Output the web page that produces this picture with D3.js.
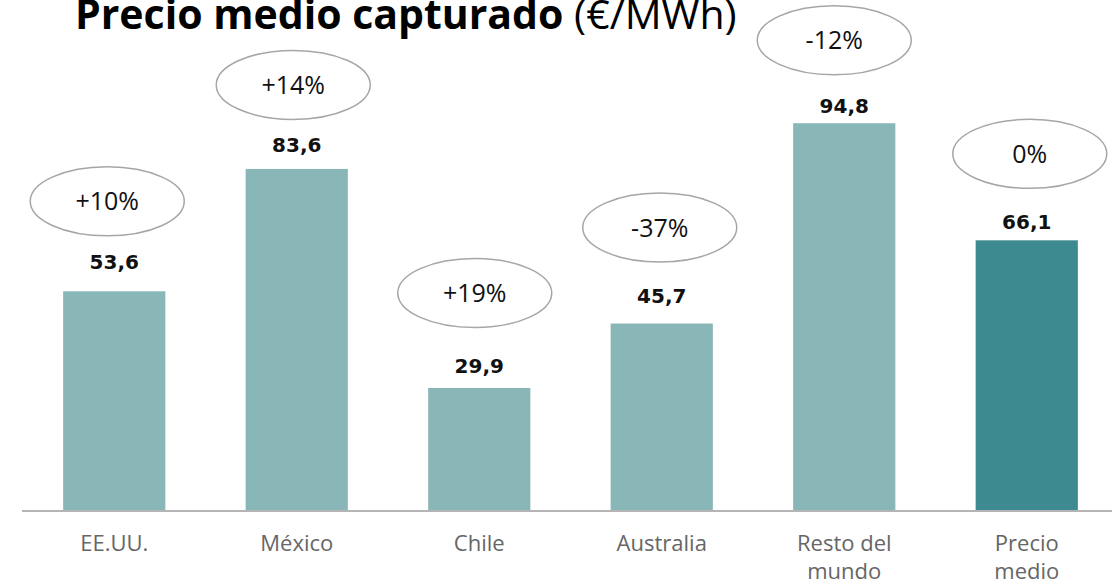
<!DOCTYPE html>
<html>
<head>
<meta charset="utf-8">
<script src="https://cdn.jsdelivr.net/npm/d3@7"></script>
<style>
  body { margin: 0; background: #fff; }
  svg { display: block; }
</style>
</head>
<body>
<div id="chart"></div>
<script>
// data
var categories = ["EE.UU.", "México", "Chile", "Australia", "Resto del mundo", "Precio medio"];
var prices = [53.6, 83.6, 29.9, 45.7, 94.8, 66.1];
var changes = ["+10%", "+14%", "+19%", "-37%", "-12%", "0%"];
var isTotal = [false, false, false, false, false, true];

// hand placement of the bubbles / labels (relative to the bar top)
var bubbleDx = [-7, -3.5, -4.5, -2, -10, 3];
var bubbleDy = [-90, -84, -95, -96, -83, -86.5];
var labelDy = [-30, -24, -22.5, -28, -17.5, -18.5];

var width = 1112, height = 584;

var svg = d3.select("#chart").append("svg")
    .attr("width", width)
    .attr("height", height);

var x = d3.scaleBand()
    .domain(categories)
    .range([23, 1118])
    .paddingInner(0.44)
    .paddingOuter(0.22);

var y = d3.scaleLinear()
    .domain([0, 100])
    .range([510, 102]);

var fmt = d3.formatLocale({decimal: ",", thousands: ".", grouping: [3], currency: ["", "€"]}).format(".1f");

var rows = categories.map(function(c, i) {
  return {cat: c, value: prices[i], change: changes[i], total: isTotal[i], i: i};
});

// title (cut at the top edge, like the original)
var title = svg.append("text")
    .attr("x", 75)
    .attr("y", 29)
    .style("font-family", "'Open Sans', sans-serif")
    .style("font-size", "41px")
    .style("fill", "#000");
title.append("tspan").style("font-weight", "bold").text("Precio medio capturado ");
title.append("tspan").style("font-weight", "normal").text("(€/MWh)");

// bars
svg.selectAll("rect.bar")
    .data(rows)
  .enter().append("rect")
    .attr("class", "bar")
    .attr("x", function(d) { return x(d.cat); })
    .attr("y", function(d) { return y(d.value); })
    .attr("width", x.bandwidth())
    .attr("height", function(d) { return y(0) - y(d.value); })
    .style("fill", function(d) { return d.total ? "#3d8a90" : "#89b6b6"; });

// axis
var axis = svg.append("g")
    .attr("transform", "translate(0," + y(0) + ")")
    .call(d3.axisBottom(x).tickSize(0).tickPadding(0));
axis.select(".domain").remove();
axis.append("line")
    .attr("x1", 22).attr("x2", width)
    .attr("y1", 1).attr("y2", 1)
    .style("stroke", "#b4b4b4")
    .style("stroke-width", 2);

// two-line labels for the long categories
var wrapAt = {"Resto del mundo": ["Resto del", "mundo"], "Precio medio": ["Precio", "medio"]};

axis.selectAll(".tick text")
    .style("font-family", "'Open Sans', sans-serif")
    .style("font-size", "22px")
    .style("fill", "#666")
    .attr("dy", null)
    .attr("y", 0)
    .each(function(d) {
      var t = d3.select(this);
      var lines = wrapAt[d] || [d];
      t.text(null);
      lines.forEach(function(l, k) {
        t.append("tspan")
          .attr("x", 0)
          .attr("y", 41 + k * 28)
          .text(l);
      });
    });

// value labels
svg.selectAll("text.value")
    .data(rows)
  .enter().append("text")
    .attr("class", "value")
    .attr("x", function(d) { return x(d.cat) + x.bandwidth() / 2; })
    .attr("y", function(d) { return y(d.value) + labelDy[d.i]; })
    .attr("dy", "0.36em")
    .attr("text-anchor", "middle")
    .style("font-family", "'DejaVu Sans', sans-serif")
    .style("font-weight", "bold")
    .style("font-size", "20px")
    .style("fill", "#111")
    .text(function(d) { return fmt(d.value); });

// change bubbles
var bubble = svg.selectAll("g.bubble")
    .data(rows)
  .enter().append("g")
    .attr("class", "bubble")
    .attr("transform", function(d) {
      return "translate(" + (x(d.cat) + x.bandwidth() / 2 + bubbleDx[d.i]) + "," + (y(d.value) + bubbleDy[d.i]) + ")";
    });

bubble.append("ellipse")
    .attr("rx", 77)
    .attr("ry", 34.5)
    .style("fill", "#fff")
    .style("stroke", "#a6a6a6")
    .style("stroke-width", 1.5);

bubble.append("text")
    .attr("text-anchor", "middle")
    .attr("dy", "0.36em")
    .style("font-family", "'Open Sans', sans-serif")
    .style("font-size", "25px")
    .style("fill", "#111")
    .text(function(d) { return d.change; });
</script>
</body>
</html>
